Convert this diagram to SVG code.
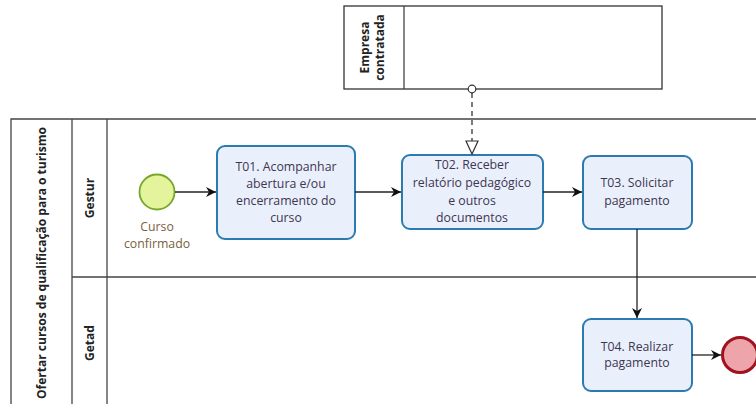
<svg xmlns="http://www.w3.org/2000/svg" width="756" height="404" viewBox="0 0 756 404">
<style>
.pool{fill:#fff;stroke:#333;stroke-width:1.3}
.ln{stroke:#444;stroke-width:1.3;fill:none}
.hd{font-family:"Open Sans","Noto Sans",sans-serif;font-weight:bold;font-size:12px;fill:#222;text-anchor:middle}
.task{fill:#eaf0fb;stroke:#2b7bb0;stroke-width:2}
.tt{font-family:"Open Sans","Noto Sans",sans-serif;font-size:12.3px;fill:#3e3552;text-anchor:middle}
.flow{stroke:#222;stroke-width:1.3;fill:none;marker-end:url(#ah)}
</style>
<defs>
<marker id="ah" viewBox="0 0 10 10" refX="10" refY="5" markerWidth="10" markerHeight="10" markerUnits="userSpaceOnUse" orient="auto">
<path d="M0,0 L10,5 L0,10 L3,5 Z" fill="#111"/>
</marker>
</defs>
<rect width="756" height="404" fill="#fff"/>
<g id="pool-empresa">
<rect class="pool" x="344" y="6" width="318" height="83"/>
<line class="ln" x1="404" y1="6" x2="404" y2="89"/>
<text class="hd" transform="translate(369,47.5) rotate(-90)">Empresa</text>
<text class="hd" transform="translate(384,47.5) rotate(-90)">contratada</text>
</g>
<g id="pool-main">
<path class="ln" d="M11,410 V119 H756"/>
<line class="ln" x1="72" y1="119" x2="72" y2="410"/>
<line class="ln" x1="107" y1="119" x2="107" y2="410"/>
<line class="ln" x1="72" y1="277" x2="756" y2="277"/>
<text class="hd" transform="translate(46,263) rotate(-90)">Ofertar cursos de qualificação para o turismo</text>
</g>
<g id="lane-gestur"><text class="hd" transform="translate(94,198) rotate(-90)">Gestur</text></g>
<g id="lane-getad"><text class="hd" transform="translate(94,343) rotate(-90)">Getad</text></g>
<g id="start">
<circle cx="157" cy="192" r="17.5" fill="#e4f49c" stroke="#7aa62a" stroke-width="1.8"/>
<text class="tt" x="157" y="231" style="fill:#7a6040">Curso</text>
<text class="tt" x="157" y="248" style="fill:#7a6040">confirmado</text>
</g>
<g id="t01">
<rect class="task" x="217" y="146" width="138" height="93" rx="8"/>
<text class="tt" x="286" y="171">T01. Acompanhar</text>
<text class="tt" x="286" y="188">abertura e/ou</text>
<text class="tt" x="286" y="205">encerramento do</text>
<text class="tt" x="286" y="222">curso</text>
</g>
<g id="t02">
<rect class="task" x="402" y="155" width="141" height="74" rx="8"/>
<text class="tt" x="472" y="169">T02. Receber</text>
<text class="tt" x="472" y="187">relatório pedagógico</text>
<text class="tt" x="472" y="205">e outros</text>
<text class="tt" x="472" y="222">documentos</text>
</g>
<g id="t03">
<rect class="task" x="583" y="156" width="109" height="73" rx="8"/>
<text class="tt" x="637" y="187">T03. Solicitar</text>
<text class="tt" x="637" y="205">pagamento</text>
</g>
<g id="t04">
<rect class="task" x="583" y="319" width="109" height="72" rx="8"/>
<text class="tt" x="637" y="351">T04. Realizar</text>
<text class="tt" x="637" y="367">pagamento</text>
</g>
<g id="end">
<circle cx="740" cy="355" r="17.5" fill="#eea4ab" stroke="#a0121e" stroke-width="3"/>
</g>
<g id="connectors">
<line class="flow" x1="175" y1="192" x2="216" y2="192"/>
<line class="flow" x1="355" y1="192" x2="401" y2="192"/>
<line class="flow" x1="543" y1="192" x2="582" y2="192"/>
<line class="flow" x1="637" y1="229" x2="637" y2="318"/>
<line class="flow" x1="692" y1="355" x2="721" y2="355"/>
<circle cx="472" cy="89" r="3.8" fill="#fff" stroke="#333" stroke-width="1.2"/>
<line x1="472" y1="93" x2="472" y2="142" stroke="#333" stroke-width="1.3" stroke-dasharray="5,4"/>
<path d="M466,141 L478,141 L472,154 Z" fill="#fff" stroke="#333" stroke-width="1.2"/>
</g>
</svg>
